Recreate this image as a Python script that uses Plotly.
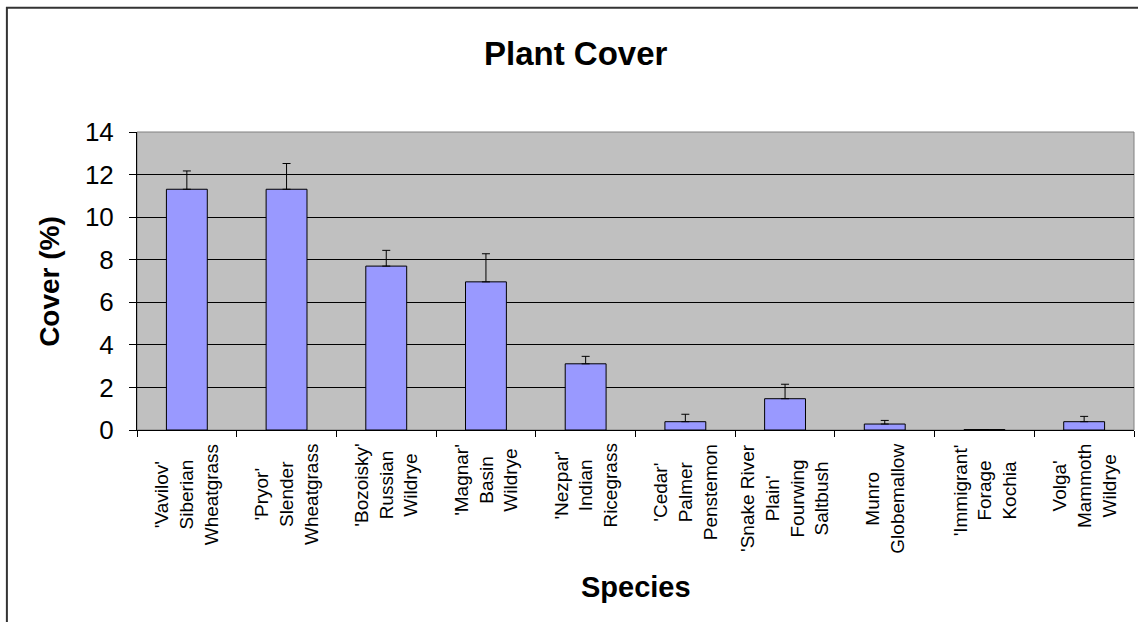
import plotly.graph_objects as go

# ---- data ----
categories = ["Vavilov", "Pryor", "Bozoisky", "Magnar", "Nezpar",
              "Cedar", "SnakeRiverPlain", "Munro", "Immigrant", "Volga"]
tick_labels = [
    "'Vavilov'<br>Siberian<br>Wheatgrass",
    "'Pryor'<br>Slender<br>Wheatgrass",
    "'Bozoisky'<br>Russian<br>Wildrye",
    "'Magnar'<br>Basin<br>Wildrye",
    "'Nezpar'<br>Indian<br>Ricegrass",
    "'Cedar'<br>Palmer<br>Penstemon",
    "'Snake River<br>Plain'<br>Fourwing<br>Saltbush",
    "Munro<br>Globemallow",
    "'Immigrant'<br>Forage<br>Kochia",
    "Volga'<br>Mammoth<br>Wildrye",
]
cover = [11.31, 11.31, 7.70, 6.96, 3.11, 0.39, 1.47, 0.28, 0.02, 0.39]
cover_err = [0.86, 1.21, 0.74, 1.32, 0.35, 0.35, 0.68, 0.17, 0.0, 0.25]
y_ticks = [0, 2, 4, 6, 8, 10, 12, 14]

FONT = "Arial, Liberation Sans, sans-serif"

fig = go.Figure()
fig.add_trace(go.Bar(
    x=categories, y=cover,
    marker=dict(color="#9999FF", line=dict(color="#000000", width=1)),
    error_y=dict(type="data", array=cover_err, arrayminus=[0] * len(cover_err),
                 symmetric=False, color="#000000", thickness=1, width=4),
    hoverinfo="x+y",
))

annotations = []
for cat, lab in zip(categories, tick_labels):
    annotations.append(dict(
        x=cat, xref="x", y=-0.04, yref="paper", text=lab, textangle=-90,
        showarrow=False, xanchor="center", yanchor="top", align="center",
        font=dict(family=FONT, size=19, color="#000000")))

annotations += [
    dict(text="<b>Plant Cover</b>", x=0.44, xref="paper", y=1.262, yref="paper",
         showarrow=False, xanchor="center", yanchor="middle",
         font=dict(family=FONT, size=33, color="#000000")),
    dict(text="<b>Species</b>", x=0.5, xref="paper", y=-0.527, yref="paper",
         showarrow=False, xanchor="center", yanchor="middle",
         font=dict(family=FONT, size=29, color="#000000")),
    dict(text="<b>Cover (%)</b>", x=-0.0884, xref="paper", y=0.5, yref="paper",
         showarrow=False, xanchor="center", yanchor="middle", textangle=-90,
         font=dict(family=FONT, size=28, color="#000000")),
]

fig.update_layout(
    width=1138, height=622,
    margin=dict(l=137, r=4, t=132, b=192),
    paper_bgcolor="#FFFFFF", plot_bgcolor="#C0C0C0",
    bargap=0.59, showlegend=False,
    annotations=annotations,
    xaxis=dict(type="category", showticklabels=False, tickson="boundaries",
               ticks="outside", ticklen=6, tickcolor="#000000", tickwidth=1,
               showline=True, linecolor="#000000", linewidth=1,
               showgrid=False, zeroline=False, range=[-0.5, 9.5]),
    yaxis=dict(range=[0, 14], tickvals=y_ticks, ticks="outside", ticklen=7,
               tickcolor="#000000", tickwidth=1, showline=True,
               linecolor="#000000", linewidth=1, showgrid=True,
               gridcolor="#000000", gridwidth=1, zeroline=False,
               ticklabelstandoff=10,
               tickfont=dict(family=FONT, size=26, color="#000000")),
    shapes=[
        # plot-area border (top/right)
        dict(type="rect", xref="paper", yref="paper", x0=0, x1=1, y0=0, y1=1,
             line=dict(color="#808080", width=1), layer="below"),
        # chart outer border (right and bottom edges fall outside the page)
        dict(type="rect", xref="paper", yref="paper", x0=-0.1305, x1=1.02,
             y0=-0.66, y1=1.417, line=dict(color="#333333", width=2)),
    ],
)

fig.write_html("out.html", config={"displayModeBar": False},
               post_script="document.body.style.margin='0';document.body.style.overflow='hidden';")
